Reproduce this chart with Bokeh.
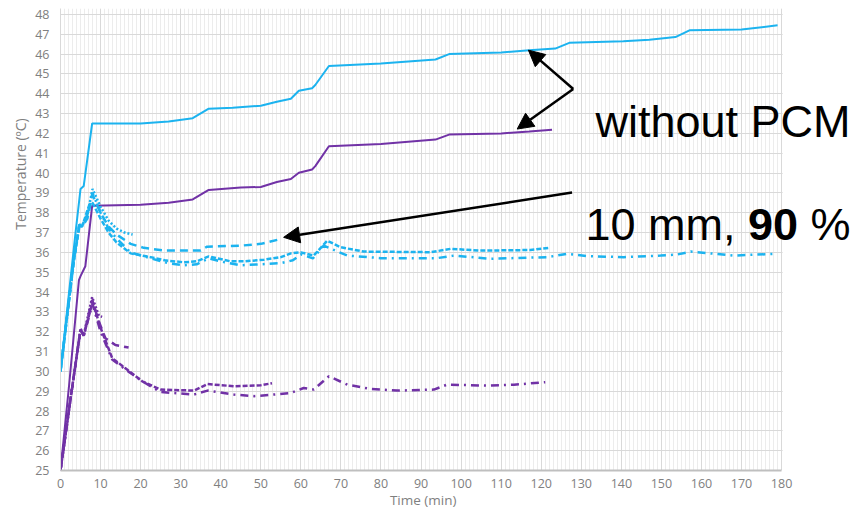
from bokeh.plotting import figure
from bokeh.models import Range1d, SingleIntervalTicker, Label, Arrow, NormalHead, BoxAnnotation
from bokeh.embed import file_html
from bokeh.resources import INLINE

# ---------------- data ----------------
BLUE = "#1cb3ef"
PURPLE = "#7132a6"

# without PCM (solid)
blue_solid_t = [0, 3.7, 5, 5.8, 7.9, 20, 27, 33, 37, 43, 50, 54, 57.5, 59.5, 62.8, 63.6, 67, 80, 93.6, 97, 110, 117, 123.5, 127, 140.5, 147, 153.5, 157, 170, 179]
blue_solid_T = [30, 36.9, 39.2, 39.35, 42.5, 42.5, 42.6, 42.77, 43.25, 43.3, 43.4, 43.6, 43.75, 44.15, 44.28, 44.44, 45.4, 45.53, 45.73, 46.0, 46.08, 46.2, 46.28, 46.57, 46.65, 46.73, 46.86, 47.2, 47.24, 47.45]

purple_solid_t = [0, 2.1, 4.6, 5.0, 6.2, 7.9, 20, 27, 33, 37, 45, 50, 54, 57.5, 59.5, 62.8, 63.6, 67, 80, 93.6, 97, 110, 117, 122.7]
purple_solid_T = [25, 29.2, 34.6, 34.8, 35.3, 38.35, 38.4, 38.5, 38.67, 39.15, 39.27, 39.3, 39.55, 39.7, 40.02, 40.18, 40.35, 41.35, 41.47, 41.69, 41.94, 42.0, 42.1, 42.19]

# 10 mm, 90 % (blue, PCM)
blue_a_t = [0, 3.3, 4.7, 5.4, 6.7, 8, 10, 12, 14, 16, 18]
blue_a_T = [30, 35.6, 37.4, 37.35, 37.9, 39.2, 38.3, 37.6, 37.2, 37.0, 36.9]

blue_b_t = [0, 3.3, 4.7, 5.4, 6.7, 8, 10, 12, 14, 17.5, 20.8, 25.8, 33.3, 35, 36.6, 45, 50, 54.1]
blue_b_T = [30, 35.6, 37.4, 37.3, 37.7, 38.9, 38.0, 37.3, 36.9, 36.43, 36.23, 36.09, 36.09, 36.1, 36.29, 36.34, 36.43, 36.63]

blue_c_t = [0, 3.3, 4.7, 5.4, 7.1, 8, 10, 12, 14, 17.5, 22.5, 26, 30.8, 34, 37, 42.4, 46, 50.8, 55, 57.5, 60, 63.2, 66.6, 69.9, 75.7, 92.4, 97.4, 104.8, 117.3, 121.9]
blue_c_T = [30, 35.5, 37.3, 37.3, 38.35, 38.5, 37.7, 37.0, 36.5, 35.95, 35.76, 35.6, 35.5, 35.55, 35.8, 35.55, 35.55, 35.63, 35.76, 35.95, 36.0, 35.84, 36.59, 36.26, 36.04, 36.01, 36.18, 36.09, 36.12, 36.23]

blue_d_t = [0, 3.3, 4.7, 5.4, 6.7, 8, 10, 12, 14, 17.5, 22.5, 27, 31, 34, 37, 41, 45, 50, 55, 58, 60, 63, 65.7, 71.6, 79.9, 94, 98.2, 107.3, 121.5, 126.5, 131.5, 140.6, 149.8, 153.9, 157.3, 168, 178.9]
blue_d_T = [30, 35.6, 37.4, 37.35, 37.9, 39.0, 38.0, 37.2, 36.7, 36.0, 35.7, 35.45, 35.35, 35.4, 35.7, 35.5, 35.35, 35.4, 35.46, 35.6, 35.9, 35.7, 36.34, 35.84, 35.71, 35.71, 35.84, 35.68, 35.76, 35.93, 35.81, 35.76, 35.84, 35.89, 36.04, 35.84, 35.93]

# purple, PCM
purple_a_t = [0, 2.5, 5, 5.8, 7.9, 9.6, 10.4]
purple_a_T = [25, 28.6, 32.17, 31.83, 33.75, 32.8, 32.75]

purple_b_t = [0, 2.5, 5, 5.8, 7.9, 9.6, 11.2, 13.7, 17]
purple_b_T = [25, 28.6, 32.1, 31.8, 33.6, 32.5, 31.67, 31.33, 31.2]

purple_c_t = [0, 2.5, 5, 5.8, 8, 10, 12.9, 16.2, 20.4, 25, 33.3, 36.7, 43.3, 50, 52.8]
purple_c_T = [25, 28.6, 32.1, 31.8, 33.5, 32.2, 30.67, 30.16, 29.5, 29.08, 29.03, 29.36, 29.25, 29.3, 29.4]

purple_d_t = [0, 2.5, 5, 5.8, 8, 10, 12.9, 16.2, 20.4, 25, 33.3, 36.7, 43.3, 48.3, 53.3, 57.4, 60.7, 63.2, 67, 71.6, 77.4, 84, 93.2, 96.5, 106.5, 113.2, 121]
purple_d_T = [25, 28.6, 32.1, 31.8, 33.4, 32.0, 30.6, 30.1, 29.5, 28.96, 28.83, 29.03, 28.83, 28.75, 28.83, 28.9, 29.16, 29.08, 29.75, 29.33, 29.11, 29.03, 29.08, 29.33, 29.28, 29.33, 29.45]

# annotation arrows (time, temperature)
arrow_pcm_tail = (128.0, 44.24)
arrow_pcm_tips = [(116.8, 46.2), (114.0, 42.22)]
arrow_90_tail = (127.7, 39.02)
arrow_90_tip = (55.7, 36.76)

# annotation texts
label_nopcm = "without PCM"
label_10mm = "10 mm,"
label_90 = "90"
label_pct = "%"

T_MAX = 180
X_END = 197.7   # frame extends right of the data area so the big labels are not clipped
NBSP = "\u00a0"

# ---------------- figure ----------------
p = figure(width=852, height=511,
           x_range=Range1d(0, X_END), y_range=Range1d(25, 48.3),
           output_backend="svg", toolbar_location=None,
           min_border_left=60, min_border_right=0,
           min_border_top=8, min_border_bottom=38)
p.outline_line_color = None
p.background_fill_color = "white"

p.xaxis.ticker = SingleIntervalTicker(interval=10, num_minor_ticks=10)
p.yaxis.ticker = SingleIntervalTicker(interval=1, num_minor_ticks=0)
p.xaxis.bounds = (0, T_MAX)

for ax in (p.xaxis[0], p.yaxis[0]):
    ax.major_tick_line_color = None
    ax.minor_tick_line_color = None
    ax.major_tick_out = 0
    ax.major_label_text_color = "#808080"
    ax.major_label_text_font = "Open Sans"
    ax.major_label_text_font_size = "12.5px"
    ax.axis_label_text_color = "#7f7f7f"
    ax.axis_label_text_font = "Open Sans"
    ax.axis_label_text_font_style = "normal"

# padding with non-breaking spaces shifts the labels to where the reference has them
p.xaxis.axis_label = "Time (min)" + NBSP * 19
p.yaxis.axis_label = NBSP * 36 + "Temperature (ºC)"
p.xaxis.axis_label_text_font_size = "13.5px"
p.yaxis.axis_label_text_font_size = "14px"
p.xaxis.axis_line_color = "#bfbfbf"
p.xaxis.axis_line_width = 2
p.yaxis.axis_line_color = "#d9d9d9"
p.xaxis.major_label_standoff = 4
p.yaxis.major_label_standoff = 11
p.xaxis.axis_label_standoff = 0
p.yaxis.axis_label_standoff = 2

p.xgrid.grid_line_color = "#d9d9d9"
p.ygrid.grid_line_color = "#d9d9d9"
p.xgrid.minor_grid_line_color = "#ececec"

# white cover right of the data area (hides grid beyond 180 min)
p.add_layout(BoxAnnotation(left=T_MAX + 0.25, fill_color="white", fill_alpha=1.0,
                           line_color=None))

# ---------------- series ----------------
lw = 2
p.line(blue_solid_t, blue_solid_T, line_color=BLUE, line_width=lw)
p.line(purple_solid_t, purple_solid_T, line_color=PURPLE, line_width=lw)

p.line(blue_a_t, blue_a_T, line_color=BLUE, line_width=2.5, line_dash="2 2")
p.line(blue_b_t, blue_b_T, line_color=BLUE, line_width=2.5, line_dash="8 5")
p.line(blue_c_t, blue_c_T, line_color=BLUE, line_width=2.5, line_dash="5 2")
p.line(blue_d_t, blue_d_T, line_color=BLUE, line_width=2.5, line_dash="8 5 2 5")

p.line(purple_a_t, purple_a_T, line_color=PURPLE, line_width=2.5, line_dash="2 2")
p.line(purple_b_t, purple_b_T, line_color=PURPLE, line_width=2.5, line_dash="8 5")
p.line(purple_c_t, purple_c_T, line_color=PURPLE, line_width=2.5, line_dash="5 2")
p.line(purple_d_t, purple_d_T, line_color=PURPLE, line_width=2.5, line_dash="8 5 2 5")

# ---------------- annotations ----------------
for tip in arrow_pcm_tips:
    p.add_layout(Arrow(x_start=arrow_pcm_tail[0], y_start=arrow_pcm_tail[1],
                       x_end=tip[0], y_end=tip[1], line_color="black", line_width=2.5,
                       end=NormalHead(size=16, fill_color="black", line_color="black")))
p.add_layout(Arrow(x_start=arrow_90_tail[0], y_start=arrow_90_tail[1],
                   x_end=arrow_90_tip[0], y_end=arrow_90_tip[1], line_color="black", line_width=2.5,
                   end=NormalHead(size=16, fill_color="black", line_color="black")))

txt = dict(text_font="Liberation Sans", text_font_size="45px", text_color="black",
           text_baseline="alphabetic")
p.add_layout(Label(x=133.55, y=42.59, text=label_nopcm, **txt))
p.add_layout(Label(x=131.05, y=37.43, text=label_10mm, **txt))
p.add_layout(Label(x=171.6, y=37.43, text=label_90, text_font_style="bold", **txt))
p.add_layout(Label(x=187.2, y=37.43, text=label_pct, **txt))

open("out.html", "w").write(file_html(p, INLINE))
